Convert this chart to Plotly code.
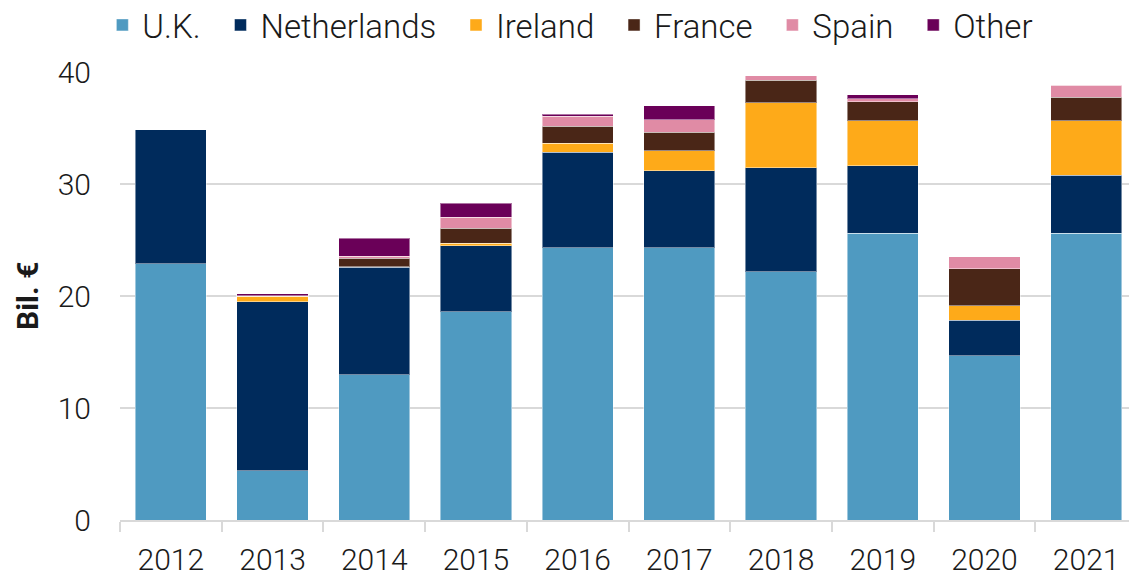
import plotly.graph_objects as go

years = ["2012", "2013", "2014", "2015", "2016", "2017", "2018", "2019", "2020", "2021"]
uk = [22.9, 4.4, 12.95, 18.6, 24.3, 24.3, 22.15, 25.6, 14.65, 25.6]
netherlands = [11.95, 15.1, 9.6, 5.9, 8.55, 6.9, 9.3, 6.05, 3.2, 5.2]
ireland = [0.0, 0.5, 0.05, 0.2, 0.8, 1.75, 5.8, 4.0, 1.3, 4.85]
france = [0.0, 0.0, 0.75, 1.35, 1.5, 1.65, 2.0, 1.7, 3.3, 2.1]
spain = [0.0, 0.03, 0.2, 1.0, 0.9, 1.15, 0.4, 0.27, 1.05, 1.05]
other = [0.0, 0.15, 1.6, 1.25, 0.2, 1.25, 0.0, 0.33, 0.0, 0.0]

series = [
    ("U.K.", uk, "#4F9AC1"),
    ("Netherlands", netherlands, "#002B5C"),
    ("Ireland", ireland, "#FEAA19"),
    ("France", france, "#4A2617"),
    ("Spain", spain, "#E08BA5"),
    ("Other", other, "#6A0058"),
]

pad = "\u00a0\u2009"
fig = go.Figure()
for name, vals, color in series:
    fig.add_trace(go.Bar(
        x=years, y=vals, name=name + pad,
        marker=dict(color=color, line=dict(color="rgba(255,255,255,0.45)", width=1)),
    ))

fig.update_layout(
    barmode="stack",
    bargap=0.3,
    width=1137, height=576,
    margin=dict(l=112, r=8, t=64, b=64, autoexpand=False),
    paper_bgcolor="white", plot_bgcolor="white",
    font=dict(family="Roboto", size=30, color="#1a1a1a", weight=300),
    legend=dict(orientation="h", xref="container", yref="paper",
                x=0.083, xanchor="left", y=1.105, yanchor="middle",
                font=dict(size=33, weight=300), itemwidth=30,
                traceorder="normal", tracegroupgap=0),
    showlegend=True,
)
fig.update_xaxes(showgrid=False, showline=True, linecolor="#d9d9d9", linewidth=2,
                 ticks="outside", tickcolor="#d9d9d9", ticklen=10, tickwidth=2,
                 tickson="boundaries", tickfont=dict(size=30, weight=300), automargin=False,
                 ticklabelstandoff=12)
fig.update_yaxes(range=[0, 40], dtick=10, showgrid=True, gridcolor="#d9d9d9", gridwidth=2,
                 zeroline=False, ticks="", tickfont=dict(size=30, weight=300), ticklabelstandoff=28,
                 automargin=False)
fig.add_annotation(text="<b>Bil. €</b>", textangle=-90, xref="paper", yref="paper",
                   x=(27 - 120) / 1017, y=0.5, xanchor="center", yanchor="middle",
                   showarrow=False, font=dict(size=30, weight=700, color="#1a1a1a"))

fig.write_html("out.html")
